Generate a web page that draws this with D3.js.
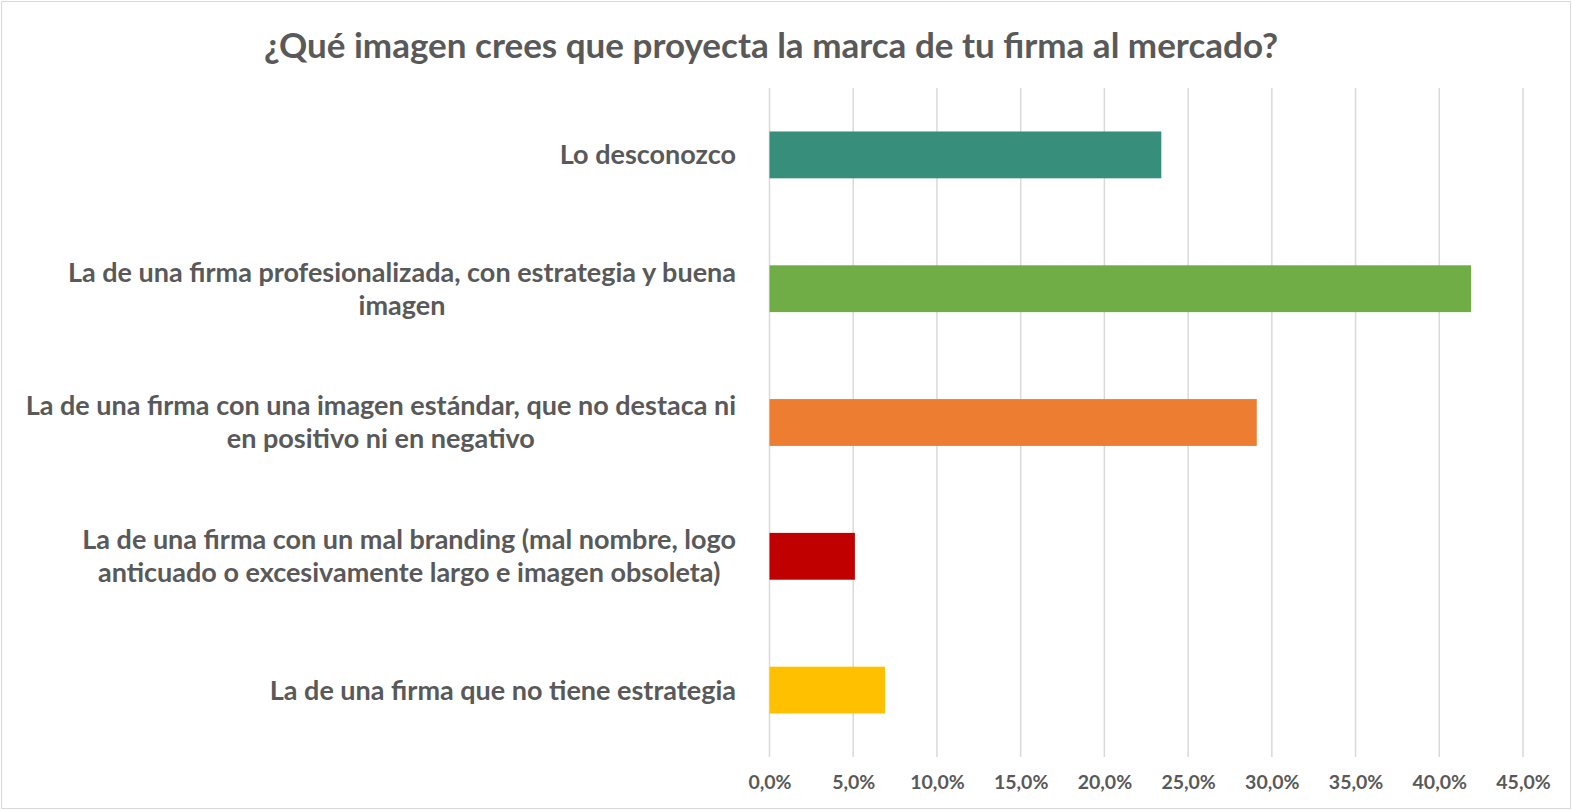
<!DOCTYPE html>
<html>
<head>
<meta charset="utf-8">
<script src="https://cdn.jsdelivr.net/npm/d3@7"></script>
<style>
  html, body { margin: 0; padding: 0; background: #fff; }
  svg { display: block; }
  text { font-family: "Lato", "Open Sans", sans-serif; font-weight: bold; fill: #595959; }
</style>
</head>
<body>
<svg id="chart" width="1572" height="810"></svg>
<script>
const title = "¿Qué imagen crees que proyecta la marca de tu firma al mercado?";
const categories = [
  "Lo desconozco",
  "La de una firma profesionalizada, con estrategia y buena\nimagen",
  "La de una firma con una imagen estándar, que no destaca ni\nen positivo ni en negativo",
  "La de una firma con un mal branding (mal nombre, logo\nanticuado o excesivamente largo e imagen obsoleta)",
  "La de una firma que no tiene estrategia"
];
const values = [0.234, 0.419, 0.291, 0.051, 0.069];
const colors = ["#368E7B", "#70AD47", "#ED7D31", "#C00000", "#FFC000"];
const tickValues = [0, 0.05, 0.10, 0.15, 0.20, 0.25, 0.30, 0.35, 0.40, 0.45];

const W = 1572, H = 810;
const plot = { left: 769.5, right: 1523, top: 88, bottom: 757 };

const svg = d3.select("#chart");

// outer frame
svg.append("rect").attr("x", 1.5).attr("y", 1.5).attr("width", W - 3).attr("height", H - 3)
  .attr("fill", "#fff").attr("stroke", "#d9d9d9").attr("stroke-width", 1);

const x = d3.scaleLinear().domain([0, 0.45]).range([plot.left, plot.right]);
const y = d3.scaleBand().domain(categories).range([plot.top, plot.bottom])
  .paddingInner(0.65).paddingOuter(0.325);

const fmt = v => d3.format(".1f")(v * 100).replace(".", ",") + "%";

// gridlines
svg.append("g").selectAll("line").data(tickValues).join("line")
  .attr("x1", d => x(d)).attr("x2", d => x(d))
  .attr("y1", plot.top).attr("y2", plot.bottom)
  .attr("stroke", "#d9d9d9").attr("stroke-width", 1.5);

// x axis labels
const xAxis = d3.axisBottom(x).tickValues(tickValues).tickFormat(fmt).tickSize(0).tickPadding(0);
const gx = svg.append("g").attr("transform", `translate(0,${plot.bottom})`).call(xAxis);
gx.select(".domain").remove();
gx.selectAll("text").attr("dy", null).attr("y", 32)
  .style("font-size", "19.5px").attr("fill", "#595959")
  .style("font-family", "Lato, sans-serif").style("font-weight", "bold");

// bars
svg.append("g").selectAll("rect").data(categories).join("rect")
  .attr("x", x(0))
  .attr("y", d => y(d))
  .attr("width", (d, i) => x(values[i]) - x(0))
  .attr("height", y.bandwidth())
  .attr("fill", (d, i) => colors[i]);

// category labels
const labelRight = 736;
const gl = svg.append("g");
categories.forEach((c, i) => {
  const lines = c.split("\n");
  const lh = 33;
  const cy = y(c) + y.bandwidth() / 2;
  const t = gl.append("text").style("font-size", "27px");
  lines.forEach((ln, j) => {
    t.append("tspan").text(ln)
      .attr("y", cy + (j - (lines.length - 1) / 2) * lh)
      .attr("dy", "0.35em");
  });
  let maxW = 0;
  t.selectAll("tspan").each(function () { maxW = Math.max(maxW, this.getComputedTextLength()); });
  t.attr("text-anchor", "middle");
  t.selectAll("tspan").attr("x", labelRight - maxW / 2);
});

// title
svg.append("text").attr("x", 771).attr("y", 46).attr("dy", "0.35em")
  .attr("text-anchor", "middle").style("font-size", "35px").text(title);
</script>
</body>
</html>
